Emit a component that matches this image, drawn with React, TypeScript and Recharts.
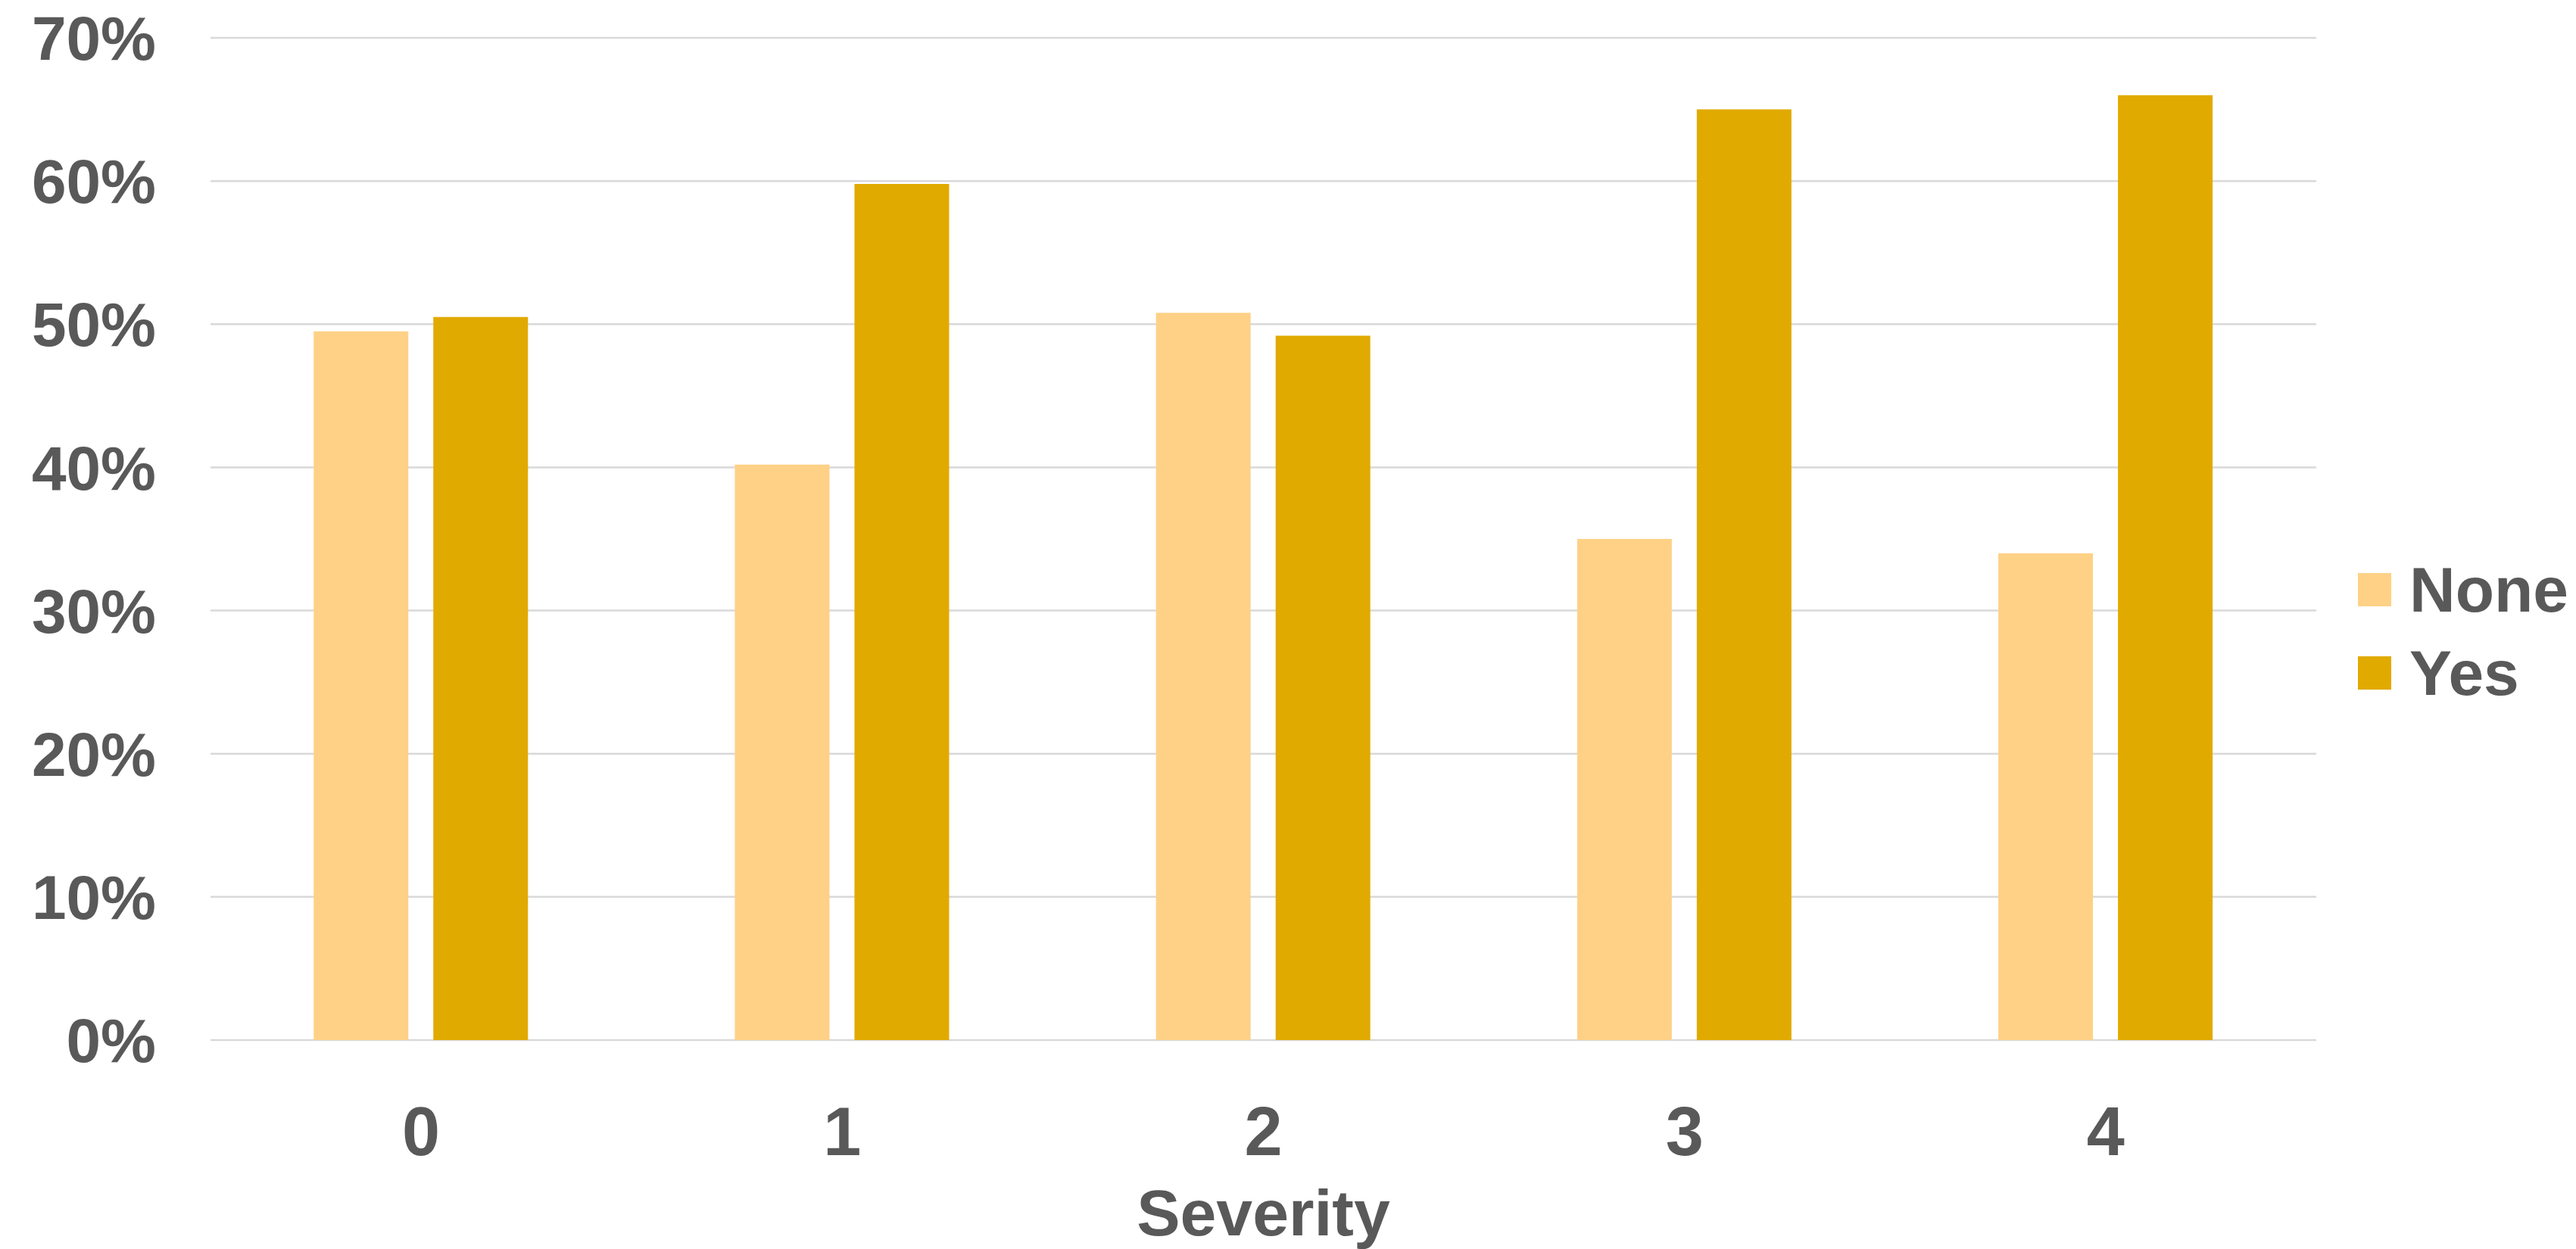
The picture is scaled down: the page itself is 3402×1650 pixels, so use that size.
import { Bar, BarChart, CartesianGrid, Label, Legend, XAxis, YAxis } from "recharts";

const severities = ["0", "1", "2", "3", "4"];
const noneShare = [49.5, 40.2, 50.8, 35.0, 34.0];
const yesShare = [50.5, 59.8, 49.2, 65.0, 66.0];
const yTicks = [0, 10, 20, 30, 40, 50, 60, 70];

const data = severities.map((s, i) => ({
  severity: s,
  None: noneShare[i],
  Yes: yesShare[i],
}));

const TEXT = "#595959";
const FONT = "'Liberation Sans', Arial, sans-serif";

const renderLegend = (props: any) => (
  <div style={{ fontFamily: FONT }}>
    {(props.payload ?? []).map((entry: any) => (
      <div
        key={entry.value}
        style={{ display: "flex", alignItems: "center", height: 110 }}
      >
        <span
          style={{
            display: "inline-block",
            width: 44,
            height: 44,
            background: entry.color,
            marginRight: 24,
          }}
        />
        <span style={{ fontSize: 84, fontWeight: 700, color: TEXT }}>
          {entry.value}
        </span>
      </div>
    ))}
  </div>
);

export default function App() {
  return (
    <div style={{ position: "absolute", left: 0, top: 0, background: "#fff" }}>
      <BarChart
        width={3402}
        height={1650}
        data={data}
        margin={{ top: 50, right: 343, left: 0, bottom: 0 }}
        barCategoryGap="24.5%"
        barGap={33}
        style={{ fontFamily: FONT }}
      >
        <CartesianGrid vertical={false} stroke="#d9d9d9" strokeWidth={2.5} />
        <XAxis
          dataKey="severity"
          axisLine={false}
          tickLine={false}
          tickSize={0}
          tickMargin={88}
          height={276}
          tick={{ fontSize: 90, fontWeight: 700, fill: TEXT }}
        >
          <Label
            value="Severity"
            position="insideBottom"
            offset={18}
            style={{ fontSize: 86, fontWeight: 700, fill: TEXT }}
          />
        </XAxis>
        <YAxis
          domain={[0, 70]}
          ticks={yTicks}
          interval={0}
          width={278}
          axisLine={false}
          tickLine={false}
          tickSize={0}
          tickMargin={72}
          tickFormatter={(v) => `${v}%`}
          tick={{ fontSize: 82, fontWeight: 700, fill: TEXT }}
        />
        <Legend
          layout="vertical"
          align="center"
          verticalAlign="middle"
          content={renderLegend}
          wrapperStyle={{ left: 3114, top: 724, width: 288 }}
        />
        <Bar dataKey="None" fill="#FED186" isAnimationActive={false} />
        <Bar dataKey="Yes" fill="#E1AA00" isAnimationActive={false} />
      </BarChart>
    </div>
  );
}
